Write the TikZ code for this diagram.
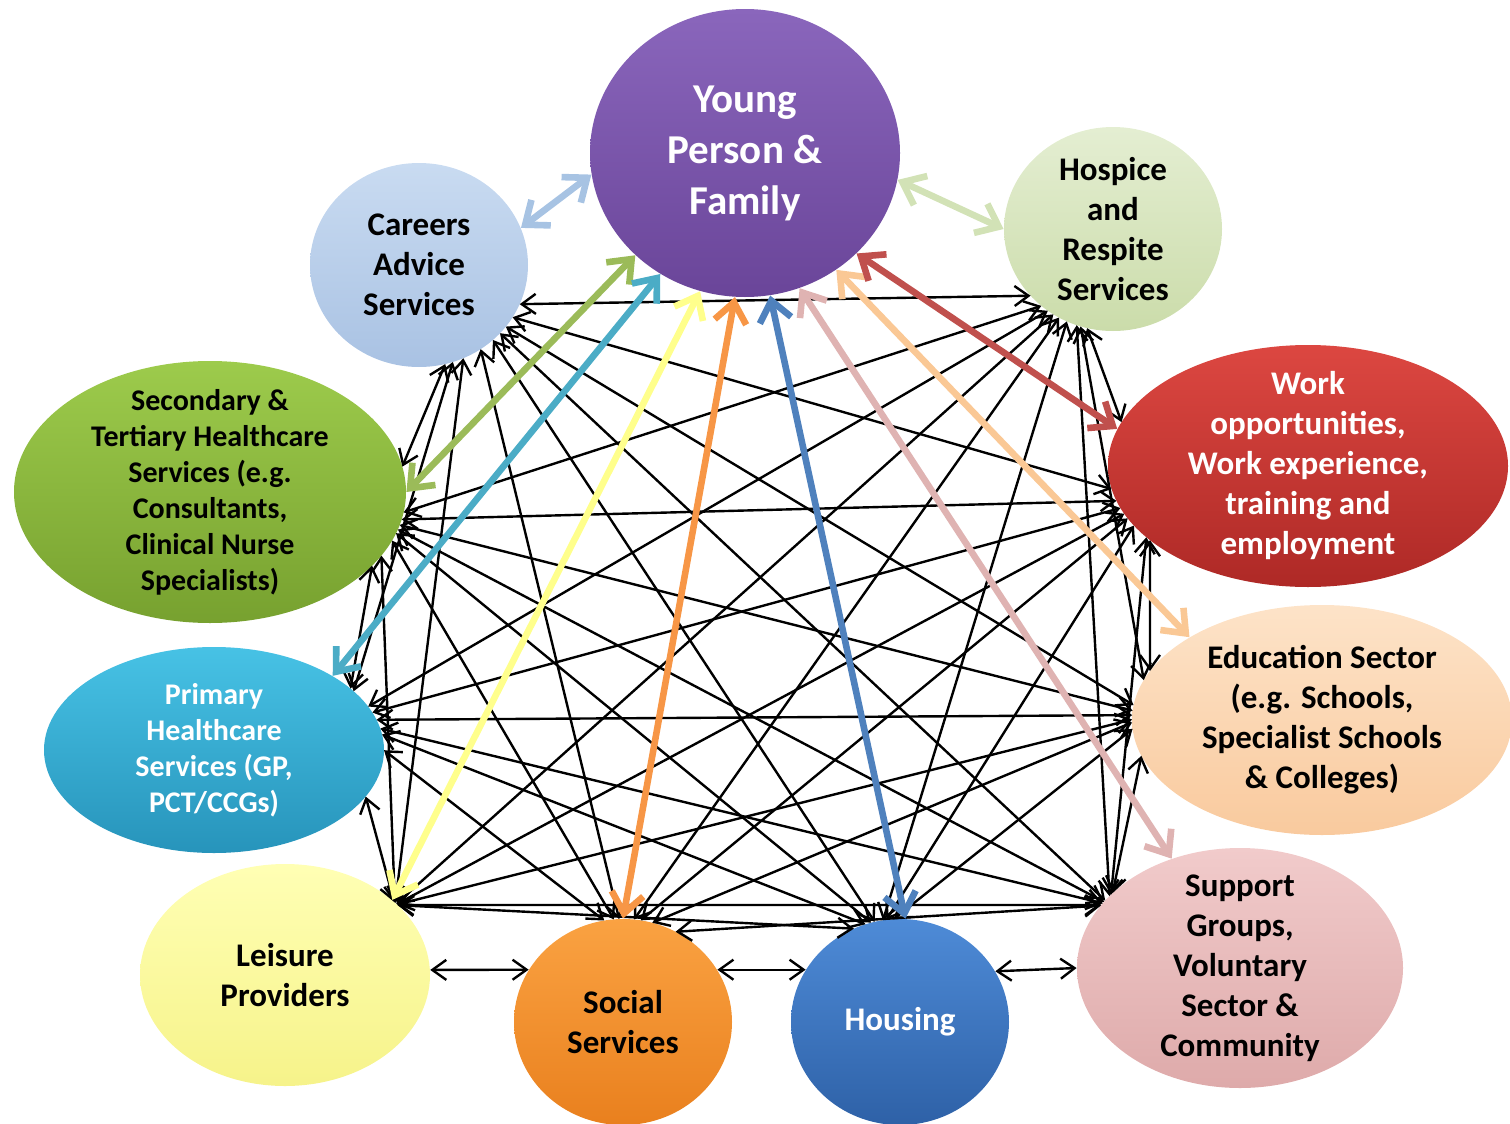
\documentclass[tikz,border=0pt]{standalone}
\usepackage{fontspec}
\setmainfont{Carlito}
\usepackage{xcolor}
\usepackage{tikz}
\usetikzlibrary{shapes.geometric, arrows.meta, intersections}

\definecolor{ypTop}{HTML}{8A66BC}
\definecolor{ypBot}{HTML}{6A4599}
\definecolor{careersTop}{HTML}{C9DBF1}
\definecolor{careersBot}{HTML}{A9C2E3}
\definecolor{hospiceTop}{HTML}{E4EED2}
\definecolor{hospiceBot}{HTML}{CBDCAA}
\definecolor{secondaryTop}{HTML}{9DCB4C}
\definecolor{secondaryBot}{HTML}{77A12F}
\definecolor{workTop}{HTML}{DC4741}
\definecolor{workBot}{HTML}{AE2926}
\definecolor{primaryTop}{HTML}{47C2E5}
\definecolor{primaryBot}{HTML}{2794BB}
\definecolor{educationTop}{HTML}{FDE3C8}
\definecolor{educationBot}{HTML}{F9CA9E}
\definecolor{leisureTop}{HTML}{FFFFB4}
\definecolor{leisureBot}{HTML}{F6F38A}
\definecolor{socialTop}{HTML}{FAA242}
\definecolor{socialBot}{HTML}{E9801E}
\definecolor{housingTop}{HTML}{4E8BD7}
\definecolor{housingBot}{HTML}{2E61A7}
\definecolor{supportTop}{HTML}{F1CBCB}
\definecolor{supportBot}{HTML}{DEAAAA}
% spoke colours
\definecolor{arrow-careers}{HTML}{A7C3E3}
\definecolor{arrow-hospice}{HTML}{D2E2B6}
\definecolor{arrow-secondary}{HTML}{9BBB59}
\definecolor{arrow-primary}{HTML}{4BACC6}
\definecolor{arrow-leisure}{HTML}{FFFF8C}
\definecolor{arrow-social}{HTML}{F79646}
\definecolor{arrow-housing}{HTML}{4F81BD}
\definecolor{arrow-support}{HTML}{DFB3B2}
\definecolor{arrow-education}{HTML}{FAC895}
\definecolor{arrow-work}{HTML}{C0504D}

\tikzset{
    service/.style={ellipse, inner sep=-12pt, align=center, font=\bfseries\fontsize{16.5}{20}\selectfont},
    smalltext/.style={font=\bfseries\fontsize{15}{18}\selectfont},
    mesh/.style={{Straight Barb[length=7pt,width=10pt]}-{Straight Barb[length=7pt,width=10pt]}, line width=1.2pt, black},
    spoke/.style={{Straight Barb[length=10pt,width=16pt]}-{Straight Barb[length=10pt,width=16pt]}, line width=3.3pt}
}

\begin{document}
\begin{tikzpicture}[x=0.5pt, y=-0.5pt]
    \useasboundingbox (0,0) rectangle (1510,1124);

    % Young person in the middle
    \node[service, minimum width=155pt, minimum height=144pt, top color=ypTop, bottom color=ypBot, text=white,
          font=\bfseries\fontsize{20.5}{25.5}\selectfont, name path=yp] (yp) at (745,153) {Young\\Person \&\\Family};

    % Services round the ring
    \node[service, minimum width=109pt, minimum height=102pt, top color=careersTop, bottom color=careersBot, name path=careers] (careers) at (419,265) {Careers\\Advice\\Services};
    \node[service, minimum width=109pt, minimum height=102pt, top color=hospiceTop, bottom color=hospiceBot, name path=hospice] (hospice) at (1113,229) {Hospice\\and\\Respite\\Services};
    \node[service, smalltext, minimum width=196pt, minimum height=131pt, top color=secondaryTop, bottom color=secondaryBot, name path=secondary] (secondary) at (210,492) {Secondary \&\\Tertiary Healthcare\\Services (e.g.\\Consultants,\\Clinical Nurse\\Specialists)};
    \node[service, minimum width=200pt, minimum height=121pt, top color=workTop, bottom color=workBot, text=white, name path=work] (work) at (1308,466) {Work\\opportunities,\\Work experience,\\training and\\employment};
    \node[service, smalltext, minimum width=170pt, minimum height=103pt, top color=primaryTop, bottom color=primaryBot, text=white, name path=primary] (primary) at (214,750) {Primary\\Healthcare\\Services (GP,\\PCT/CCGs)};
    \node[service, minimum width=190pt, minimum height=115pt, top color=educationTop, bottom color=educationBot, name path=education] (education) at (1322,720) {Education Sector\\(e.g. Schools,\\Specialist Schools\\\& Colleges)};
    \node[service, minimum width=145pt, minimum height=111pt, top color=leisureTop, bottom color=leisureBot, name path=leisure] (leisure) at (285,975) {Leisure\\Providers};
    \node[service, minimum width=109pt, minimum height=103pt, top color=socialTop, bottom color=socialBot, name path=social] (social) at (623,1022) {Social\\Services};
    \node[service, minimum width=109pt, minimum height=103pt, top color=housingTop, bottom color=housingBot, text=white, name path=housing] (housing) at (900,1022) {Housing};
    \node[service, minimum width=163pt, minimum height=120pt, top color=supportTop, bottom color=supportBot, name path=support] (support) at (1240,968) {Support\\Groups,\\Voluntary\\Sector \&\\Community};

    % where the links fan out from
    \coordinate (careers-in) at (470,305);
    \coordinate (hospice-in) at (1075,295);
    \coordinate (secondary-in) at (380,520);
    \coordinate (work-in) at (1150,500);
    \coordinate (primary-in) at (345,720);
    \coordinate (education-in) at (1150,715);
    \coordinate (leisure-in) at (395,905);
    \coordinate (social-in) at (623,935);
    \coordinate (housing-in) at (880,930);
    \coordinate (support-in) at (1110,905);

    % every service linked to every other one
    \foreach \a/\b in {careers/hospice, careers/secondary, careers/work, careers/primary, careers/education,
                       careers/leisure, careers/social, careers/housing, careers/support,
                       hospice/secondary, hospice/work, hospice/primary, hospice/education, hospice/leisure,
                       hospice/social, hospice/housing, hospice/support,
                       secondary/work, secondary/primary, secondary/education, secondary/leisure,
                       secondary/social, secondary/housing, secondary/support,
                       work/primary, work/education, work/leisure, work/social, work/housing, work/support,
                       primary/education, primary/leisure, primary/social, primary/housing, primary/support,
                       education/leisure, education/social, education/housing, education/support,
                       leisure/housing, leisure/support, social/support}{
        \path[name path=ln] (\a-in) -- (\b-in);
        \draw[mesh, name intersections={of=ln and \a, by=s}, name intersections={of=ln and \b, by=t}] (s) -- (t);
    }
    % neighbours along the bottom
    \foreach \a/\s/\b/\e in {leisure/2/social/151, social/29/housing/151, housing/28/support/180}
        \draw[mesh] (\a.\s) -- (\b.\e);

    % spokes from the young person
    \foreach \t/\s/\e in {careers/188/20, hospice/-10/180, secondary/223/0, primary/235/32, leisure/252/35,
                          social/266/90, housing/280/87, support/292/122, education/308/148, work/318/169}
        \draw[spoke, arrow-\t] (yp.\s) -- (\t.\e);
\end{tikzpicture}
\end{document}
